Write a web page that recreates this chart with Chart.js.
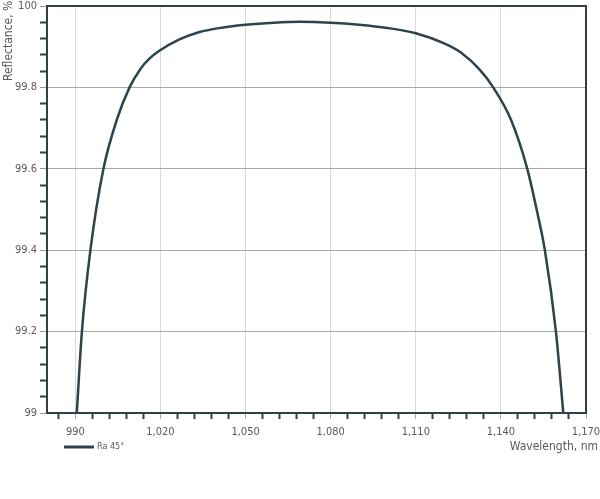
<!DOCTYPE html>
<html>
<head>
<meta charset="utf-8">
<script src="https://cdn.jsdelivr.net/npm/chart.js@4/dist/chart.umd.min.js"></script>
<style>
html,body{margin:0;padding:0;background:#fff;}
#wrap{width:600px;height:499px;position:relative;}
</style>
</head>
<body>
<div id="wrap"><canvas id="c" width="600" height="499"></canvas></div>
<script>
// ---- data ----
const seriesLabel = 'Ra 45°';
const wavelengths = [990.5, 992.3, 995.3, 999.9, 1004.6, 1009.1, 1013, 1016, 1019.6, 1026.7, 1033.8, 1040, 1050, 1060, 1069, 1080, 1090, 1100, 1110, 1120, 1126, 1132.6, 1137.3, 1143.6, 1149.3, 1152.6, 1155.5, 1159.4, 1162];
const reflectance = [99.0, 99.2, 99.4, 99.6, 99.72, 99.8, 99.846, 99.870, 99.890, 99.918, 99.936, 99.945, 99.954, 99.959, 99.961, 99.959, 99.954, 99.946, 99.933, 99.908, 99.885, 99.843, 99.8, 99.72, 99.6, 99.5, 99.4, 99.2, 99.0];
const xTickLabels = [990, 1020, 1050, 1080, 1110, 1140, 1170];
const yTickLabels = [99, 99.2, 99.4, 99.6, 99.8, 100];
const xRange = [980, 1170];
const yRange = [99, 100];
const xMinorStep = 6;
const yMinorStep = 0.04;
const xTitle = 'Wavelength, nm';
const yTitle = 'Reflectance, %';

const FONT = '"DejaVu Sans Condensed", "DejaVu Sans", "Liberation Sans", sans-serif';
const TEXT = '#5a5a5a';
const DARK = '#2e3f47';

function isMajor(v, majors) { return majors.some(m => Math.abs(m - v) < 1e-6); }

function buildTicks(first, last, step) {
  const out = [];
  const n = Math.round((last - first) / step);
  for (let i = 0; i <= n; i++) out.push({ value: +(first + i * step).toFixed(4) });
  return out;
}

const framePlugin = {
  id: 'frame',
  afterDraw(chart) {
    const { ctx, chartArea: a } = chart;
    ctx.save();
    ctx.strokeStyle = DARK;
    ctx.lineWidth = 2;
    ctx.beginPath();
    ctx.moveTo(a.left, a.top);
    ctx.lineTo(a.right, a.top);
    ctx.lineTo(a.right, a.bottom);
    ctx.stroke();
    ctx.fillStyle = TEXT;
    ctx.font = '12px ' + FONT;
    ctx.textAlign = 'right';
    ctx.textBaseline = 'middle';
    ctx.fillText(xTitle, 598, 447);
    ctx.save();
    ctx.translate(9, 81);
    ctx.rotate(-Math.PI / 2);
    ctx.textAlign = 'left';
    ctx.textBaseline = 'middle';
    ctx.fillText(yTitle, 0, 0);
    ctx.restore();
    const ds = chart.data.datasets[0];
    ctx.strokeStyle = ds.borderColor;
    ctx.lineWidth = 3;
    ctx.beginPath();
    ctx.moveTo(a.left + 17, 447);
    ctx.lineTo(a.left + 47, 447);
    ctx.stroke();
    ctx.fillStyle = TEXT;
    ctx.font = '9px ' + FONT;
    ctx.textAlign = 'left';
    ctx.fillText(ds.label, a.left + 50, 447);
    ctx.restore();
  }
};

new Chart(document.getElementById('c'), {
  type: 'line',
  data: {
    datasets: [{
      label: seriesLabel,
      data: wavelengths.map((w, i) => ({ x: w, y: reflectance[i] })),
      borderColor: '#2f434c',
      borderWidth: 2.5,
      pointRadius: 0,
      fill: false,
      cubicInterpolationMode: 'monotone'
    }]
  },
  options: {
    responsive: false,
    animation: false,
    layout: { padding: { left: 0, right: 14, top: 6, bottom: 0 } },
    plugins: { legend: { display: false }, tooltip: { enabled: false } },
    scales: {
      x: {
        type: 'linear',
        min: xRange[0], max: xRange[1],
        afterBuildTicks(scale) {
          scale.ticks = buildTicks(984, xRange[1], xMinorStep);
        },
        afterFit(scale) { scale.height = 86; scale.paddingLeft = 0; scale.paddingRight = 0; },
        border: { display: true, color: DARK, width: 2 },
        grid: {
          color: c => isMajor(c.tick.value, xTickLabels) ? '#d9d9d9' : 'rgba(0,0,0,0)',
          tickColor: c => isMajor(c.tick.value, xTickLabels) ? '#aaaaaa' : DARK,
          tickWidth: c => isMajor(c.tick.value, xTickLabels) ? 1 : 2,
          tickLength: 6,
          drawTicks: true
        },
        ticks: {
          autoSkip: false, maxRotation: 0, minRotation: 0,
          padding: 7,
          color: TEXT,
          font: { family: FONT, size: 11 },
          callback: v => isMajor(v, xTickLabels) ? Number(v).toLocaleString('en-US') : ''
        }
      },
      y: {
        type: 'linear',
        min: yRange[0], max: yRange[1],
        afterBuildTicks(scale) {
          scale.ticks = buildTicks(yRange[0], yRange[1], yMinorStep);
        },
        afterFit(scale) { scale.width = 47; scale.paddingTop = 0; scale.paddingBottom = 0; },
        border: { display: true, color: DARK, width: 2 },
        grid: {
          color: c => isMajor(c.tick.value, yTickLabels) ? '#a8a8a8' : 'rgba(0,0,0,0)',
          tickColor: c => isMajor(c.tick.value, yTickLabels) ? '#999999' : DARK,
          tickWidth: c => isMajor(c.tick.value, yTickLabels) ? 1 : 2,
          tickLength: 7,
          drawTicks: true
        },
        ticks: {
          autoSkip: false,
          padding: 3,
          color: TEXT,
          font: { family: FONT, size: 11 },
          callback: v => isMajor(v, yTickLabels) ? String(+Number(v).toFixed(1)) : ''
        }
      }
    }
  },
  plugins: [framePlugin]
});
</script>
</body>
</html>
